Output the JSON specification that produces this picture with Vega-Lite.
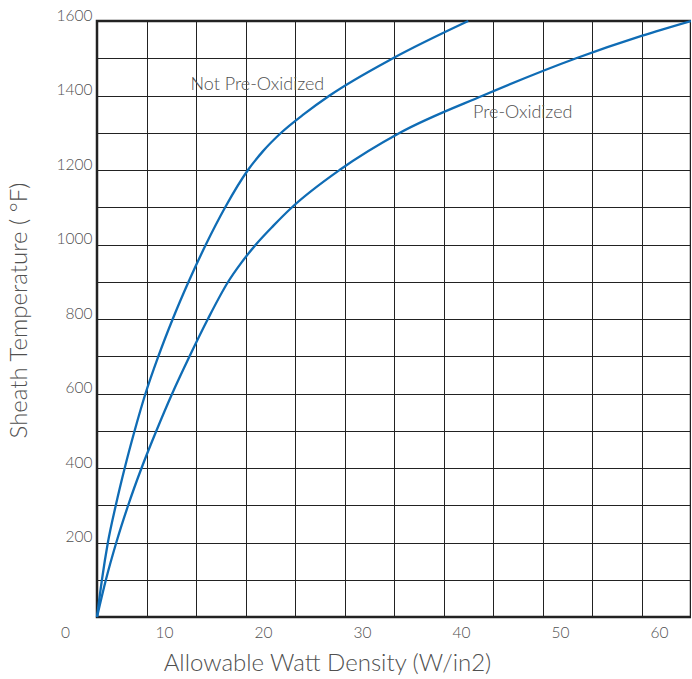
{
  "$schema": "https://vega.github.io/schema/vega-lite/v6.json",
  "width": 594,
  "height": 596,
  "autosize": {"type": "none"},
  "padding": {"left": 97, "top": 21, "right": 0, "bottom": 62},
  "background": "white",
  "config": {
    "view": {"stroke": "#222222", "strokeWidth": 2.5},
    "font": "Lato",
    "axis": {
      "grid": true,
      "gridColor": "#222222",
      "gridWidth": 1,
      "gridOpacity": 1,
      "ticks": false,
      "tickSize": 0,
      "domain": false,
      "labelFont": "Lato",
      "labelFontSize": 15.5,
      "labelFontWeight": 300,
      "labelColor": "#505050",
      "titleFont": "Lato",
      "titleFontSize": 24,
      "titleFontWeight": 300,
      "titleColor": "#505050"
    }
  },
  "datasets": {
    "curves": [
      {"series": "Not Pre-Oxidized", "watt_density": 0, "temperature": 0},
      {"series": "Not Pre-Oxidized", "watt_density": 0.5, "temperature": 100},
      {"series": "Not Pre-Oxidized", "watt_density": 1.1, "temperature": 200},
      {"series": "Not Pre-Oxidized", "watt_density": 1.9, "temperature": 300},
      {"series": "Not Pre-Oxidized", "watt_density": 2.8, "temperature": 400},
      {"series": "Not Pre-Oxidized", "watt_density": 3.8, "temperature": 500},
      {"series": "Not Pre-Oxidized", "watt_density": 4.9, "temperature": 600},
      {"series": "Not Pre-Oxidized", "watt_density": 6.2, "temperature": 700},
      {"series": "Not Pre-Oxidized", "watt_density": 7.65, "temperature": 800},
      {"series": "Not Pre-Oxidized", "watt_density": 9.25, "temperature": 900},
      {"series": "Not Pre-Oxidized", "watt_density": 11.0, "temperature": 1000},
      {"series": "Not Pre-Oxidized", "watt_density": 12.95, "temperature": 1100},
      {"series": "Not Pre-Oxidized", "watt_density": 15.25, "temperature": 1200},
      {"series": "Not Pre-Oxidized", "watt_density": 16.75, "temperature": 1250},
      {"series": "Not Pre-Oxidized", "watt_density": 18.6, "temperature": 1300},
      {"series": "Not Pre-Oxidized", "watt_density": 20.9, "temperature": 1350},
      {"series": "Not Pre-Oxidized", "watt_density": 23.5, "temperature": 1400},
      {"series": "Not Pre-Oxidized", "watt_density": 29.9, "temperature": 1500},
      {"series": "Not Pre-Oxidized", "watt_density": 37.5, "temperature": 1600},
      {"series": "Pre-Oxidized", "watt_density": 0, "temperature": 0},
      {"series": "Pre-Oxidized", "watt_density": 0.9, "temperature": 100},
      {"series": "Pre-Oxidized", "watt_density": 1.95, "temperature": 200},
      {"series": "Pre-Oxidized", "watt_density": 3.15, "temperature": 300},
      {"series": "Pre-Oxidized", "watt_density": 4.5, "temperature": 400},
      {"series": "Pre-Oxidized", "watt_density": 6.0, "temperature": 500},
      {"series": "Pre-Oxidized", "watt_density": 7.6, "temperature": 600},
      {"series": "Pre-Oxidized", "watt_density": 9.35, "temperature": 700},
      {"series": "Pre-Oxidized", "watt_density": 11.2, "temperature": 800},
      {"series": "Pre-Oxidized", "watt_density": 13.25, "temperature": 900},
      {"series": "Pre-Oxidized", "watt_density": 14.55, "temperature": 950},
      {"series": "Pre-Oxidized", "watt_density": 16.05, "temperature": 1000},
      {"series": "Pre-Oxidized", "watt_density": 17.8, "temperature": 1050},
      {"series": "Pre-Oxidized", "watt_density": 19.7, "temperature": 1100},
      {"series": "Pre-Oxidized", "watt_density": 24.5, "temperature": 1200},
      {"series": "Pre-Oxidized", "watt_density": 30.6, "temperature": 1300},
      {"series": "Pre-Oxidized", "watt_density": 39.0, "temperature": 1400},
      {"series": "Pre-Oxidized", "watt_density": 48.4, "temperature": 1500},
      {"series": "Pre-Oxidized", "watt_density": 55, "temperature": 1560},
      {"series": "Pre-Oxidized", "watt_density": 60, "temperature": 1600}
    ],
    "notes": [
      {"label": "Not Pre-Oxidized", "watt_density": 16.2, "temperature": 1428},
      {"label": "Pre-Oxidized", "watt_density": 43.0, "temperature": 1352}
    ]
  },
  "encoding": {
    "x": {
      "field": "watt_density",
      "type": "quantitative",
      "scale": {"domain": [0, 60], "nice": false, "zero": false},
      "axis": {
        "values": [0, 5, 10, 15, 20, 25, 30, 35, 40, 45, 50, 55, 60],
        "format": "d",
        "labelExpr": "datum.value % 10 === 0 ? datum.label : ''",
        "labelFlush": false,
        "labelOffset": -32,
        "labelPadding": 15,
        "labelBaseline": "middle",
        "labelAlign": "center",
        "title": "Allowable Watt Density (W/in2)",
        "titleX": 230,
        "titleY": 46,
        "titleAlign": "center",
        "titleBaseline": "middle"
      }
    },
    "y": {
      "field": "temperature",
      "type": "quantitative",
      "scale": {"domain": [0, 1600], "nice": false, "zero": false},
      "axis": {
        "values": [0, 100, 200, 300, 400, 500, 600, 700, 800, 900, 1000, 1100, 1200, 1300, 1400, 1500, 1600],
        "format": "d",
        "labelExpr": "datum.value % 200 === 0 && datum.value > 0 ? datum.label : ''",
        "labelOffset": -6,
        "labelPadding": 5,
        "labelAlign": "right",
        "title": "Sheath Temperature ( °F)",
        "titleX": -78,
        "titleY": 289,
        "titleAngle": -90,
        "titleAlign": "center",
        "titleBaseline": "middle"
      }
    }
  },
  "layer": [
    {
      "data": {"name": "curves"},
      "mark": {"type": "line", "interpolate": "monotone", "color": "#0f6cb5", "strokeWidth": 2.3},
      "encoding": {"detail": {"field": "series", "type": "nominal"}}
    },
    {
      "data": {"name": "notes"},
      "mark": {"type": "text", "font": "Lato", "fontSize": 18, "fontWeight": 300, "color": "#505050", "align": "center", "baseline": "middle"},
      "encoding": {"text": {"field": "label", "type": "nominal"}}
    }
  ]
}
